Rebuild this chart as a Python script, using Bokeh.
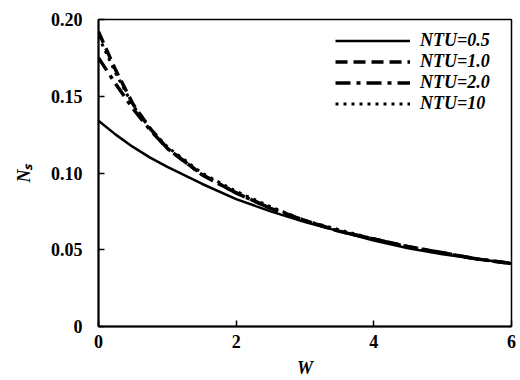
from bokeh.plotting import figure
from bokeh.models import Legend, LegendItem, FixedTicker, Range1d
from bokeh.embed import file_html
from bokeh.resources import INLINE

W = [0, 0.25, 0.5, 0.75, 1.0, 1.5, 2.0, 2.5, 3.0, 3.5, 4.0, 4.5, 5.0, 5.5, 6.0]
ns_ntu05 = [0.134, 0.125, 0.117, 0.110, 0.104, 0.093, 0.083, 0.075, 0.068, 0.062, 0.056, 0.051, 0.047, 0.044, 0.041]
ns_ntu10 = [0.192, 0.167, 0.145, 0.129, 0.116, 0.099, 0.087, 0.077, 0.069, 0.062, 0.057, 0.052, 0.048, 0.044, 0.041]
ns_ntu20 = [0.175, 0.158, 0.142, 0.128, 0.116, 0.099, 0.087, 0.077, 0.069, 0.062, 0.057, 0.052, 0.048, 0.044, 0.041]
ns_ntu100 = [0.189, 0.165, 0.144, 0.129, 0.117, 0.100, 0.088, 0.078, 0.069, 0.063, 0.057, 0.052, 0.048, 0.044, 0.041]
labels = ["NTU=0.5", "NTU=1.0", "NTU=2.0", "NTU=10"]
x_ticks = [0, 2, 4, 6]
y_ticks = [0, 0.05, 0.10, 0.15, 0.20]
y_tick_labels = ["0", "0.05", "0.10", "0.15", "0.20"]

FONT = "Liberation Serif"

p = figure(width=520, height=380, output_backend="svg", toolbar_location=None,
           x_range=Range1d(0, 6), y_range=Range1d(0, 0.20),
           min_border_left=98, min_border_right=9, min_border_top=19, min_border_bottom=49)
p.background_fill_color = "white"
p.border_fill_color = "white"
p.outline_line_color = "black"
p.outline_line_width = 1.5
p.grid.visible = False

series = [ns_ntu05, ns_ntu10, ns_ntu20, ns_ntu100]
dashes = ["solid", "12 6", "15 6 4 6", "3 5"]
widths = [2.5, 3.5, 3.5, 3.0]
items = []
for ys, d, w, lab in zip(series, dashes, widths, labels):
    r = p.line(W, ys, line_color="black", line_width=w, line_dash=d)
    items.append(LegendItem(label=lab, renderers=[r]))

legend = Legend(items=items, location=(237, 212), padding=0, margin=0, spacing=0,
                glyph_width=75, glyph_height=21, label_height=21, label_standoff=10,
                border_line_alpha=0, background_fill_alpha=0,
                label_text_font=FONT, label_text_font_style="bold italic",
                label_text_font_size="18px", label_text_color="black")
p.add_layout(legend)

p.xaxis.ticker = FixedTicker(ticks=x_ticks)
p.yaxis.ticker = FixedTicker(ticks=y_ticks)
p.yaxis.major_label_overrides = {t: l for t, l in zip(y_ticks, y_tick_labels)}
for ax in (p.xaxis, p.yaxis):
    ax.axis_line_width = 2
    ax.axis_line_color = "black"
    ax.major_tick_in = 6
    ax.major_tick_out = 0
    ax.minor_tick_line_color = None
    ax.major_tick_line_width = 1.5
    ax.major_label_text_font = FONT
    ax.major_label_text_font_style = "bold"
    ax.major_label_text_font_size = "18px"
    ax.major_label_text_color = "black"
    ax.axis_label_text_font = FONT
    ax.axis_label_text_font_style = "bold italic"
    ax.axis_label_text_font_size = "18px"
    ax.axis_label_text_color = "black"
p.yaxis.major_label_standoff = 16
p.xaxis.major_label_standoff = 8
p.xaxis.axis_label = "W"
p.xaxis.axis_label_standoff = 7
p.yaxis.axis_label = "Nₛ"
p.yaxis.axis_label_standoff = 14

open("out.html", "w").write(file_html(p, INLINE))
